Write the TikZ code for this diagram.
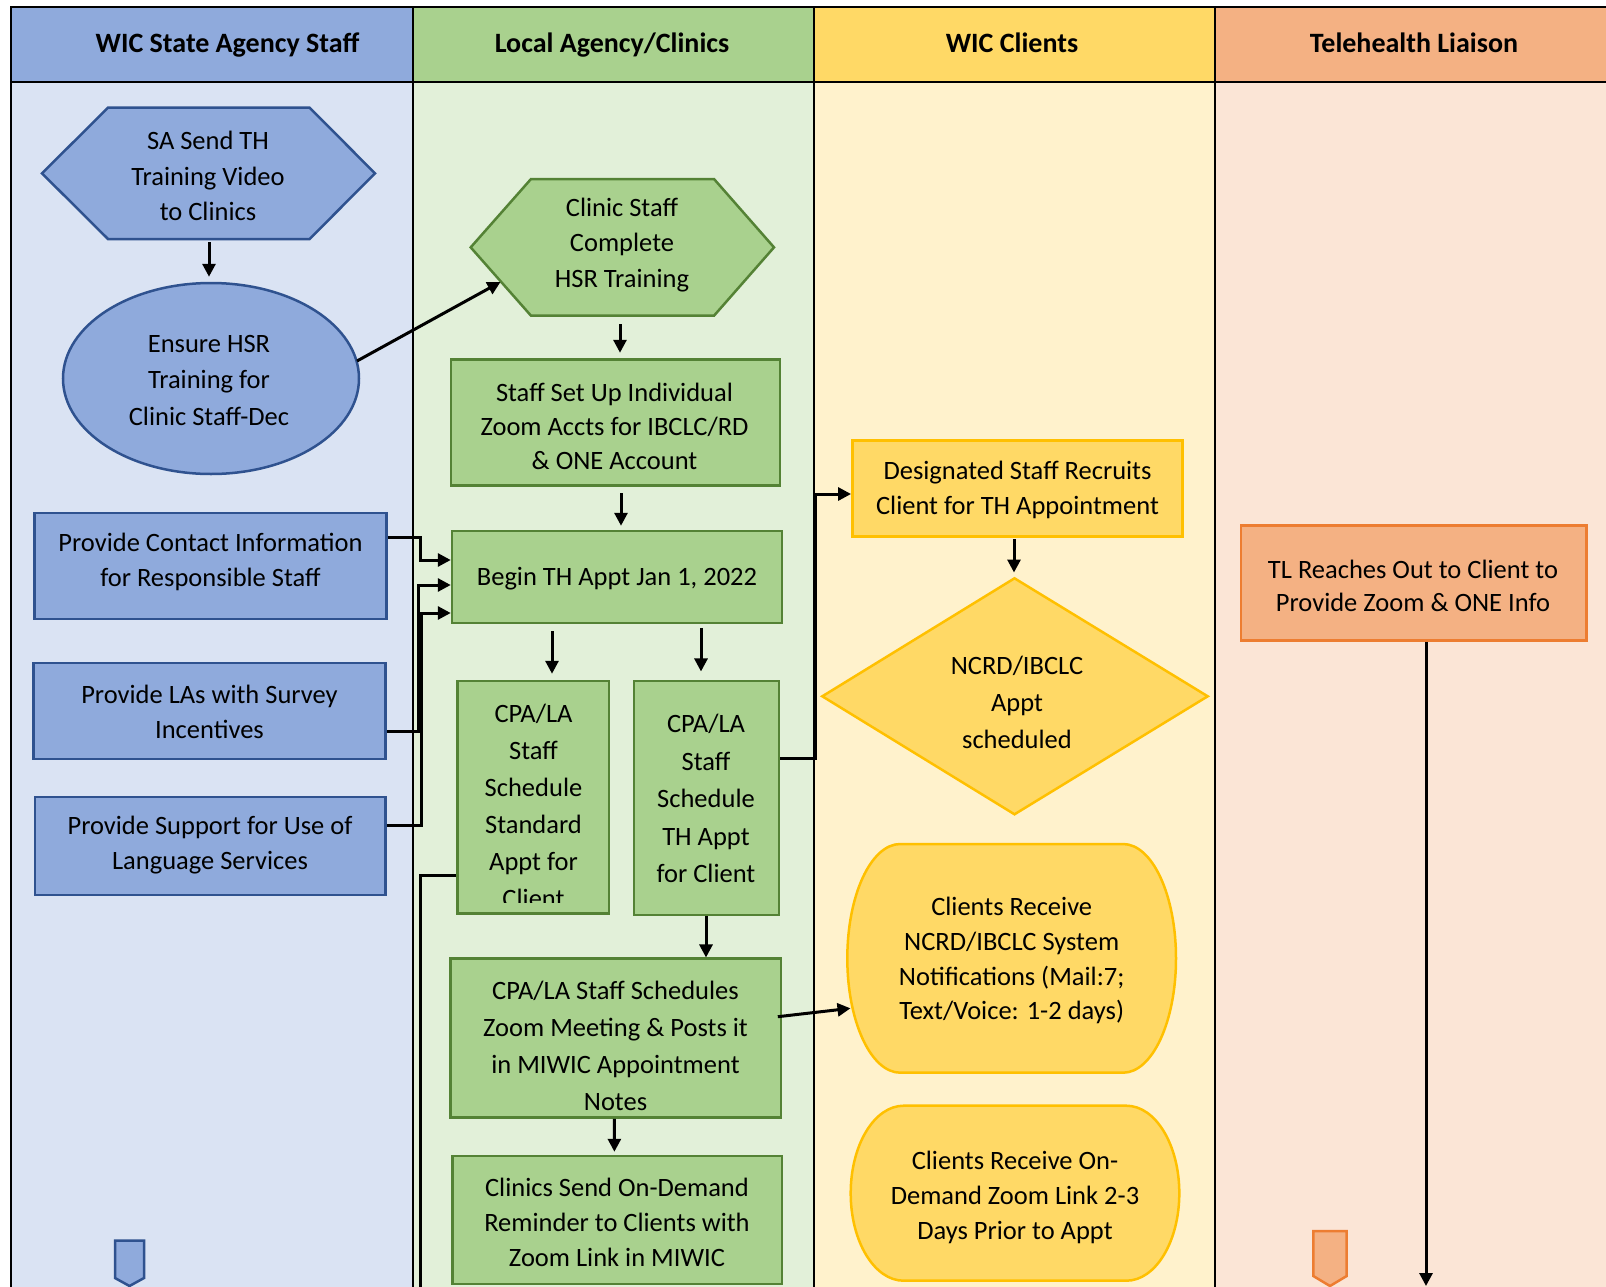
\documentclass[tikz,border=0pt]{standalone}
\usepackage{fontspec}
\setmainfont{Carlito}
\usetikzlibrary{arrows.meta,shapes.geometric}
\definecolor{hblue}{HTML}{8FAADC}
\definecolor{bblue}{HTML}{DAE3F3}
\definecolor{dblue}{HTML}{2F528F}
\definecolor{hgreen}{HTML}{A9D18E}
\definecolor{bgreen}{HTML}{E2F0D9}
\definecolor{dgreen}{HTML}{548235}
\definecolor{hyellow}{HTML}{FFD966}
\definecolor{byellow}{HTML}{FFF2CC}
\definecolor{dyellow}{HTML}{FFC000}
\definecolor{horange}{HTML}{F4B183}
\definecolor{borange}{HTML}{FBE5D6}
\definecolor{dorange}{HTML}{ED7D31}
\begin{document}
\begin{tikzpicture}[x=1pt,y=-1pt,
  lane/.style={line width=2.5pt,black},
  hdr/.style={font=\fontsize{28}{34}\selectfont\bfseries,inner sep=0pt,anchor=base},
  txt/.style={align=center,inner sep=0pt,yshift=-2pt},
  bs/.style={font=\fontsize{26.5}{#1}\selectfont},
  bx/.style={rectangle,draw,line width=2.5pt,inner sep=0pt},
  bluebox/.style={fill=hblue,draw=dblue,line width=2.5pt},
  greenbox/.style={fill=hgreen,draw=dgreen,line width=2.5pt},
  yellowbox/.style={fill=hyellow,draw=dyellow,line width=2.5pt},
  orangebox/.style={fill=horange,draw=dorange,line width=2.5pt},
  anch/.style={rectangle,inner sep=0pt,draw=none,fill=none},
  conn/.style={line width=3pt,black},
  arr/.style={conn,-{Triangle[length=13pt,width=13pt]}}]
\useasboundingbox (0,0) rectangle (1606,1287);
\clip (0,0) rectangle (1606,1287);
\fill[white] (0,0) rectangle (1606,1287);
% lanes
\fill[bblue] (11,82) rectangle (413,1290);
\fill[bgreen] (413,82) rectangle (814,1290);
\fill[byellow] (814,82) rectangle (1215,1290);
\fill[borange] (1215,82) rectangle (1610,1290);
\fill[hblue] (11,7) rectangle (413,82);
\fill[hgreen] (413,7) rectangle (814,82);
\fill[hyellow] (814,7) rectangle (1215,82);
\fill[horange] (1215,7) rectangle (1610,82);
\draw[lane] (11,1290) -- (11,7) -- (1610,7);
\draw[lane] (11,82) -- (1610,82);
\foreach \x in {413,814,1215} \draw[lane] (\x,7) -- (\x,1290);
\node[hdr] (h1) at (227.5,53) {WIC State Agency Staff};
\node[hdr] (h2) at (612,53) {Local Agency/Clinics};
\node[hdr] (h3) at (1012,53) {WIC Clients};
\node[hdr] (h4) at (1414,53) {Telehealth Liaison};

% State agency lane
\draw[bluebox] (42,173.35) -- (108,107.7) -- (309.6,107.7) -- (375,173.35) -- (309.6,239) -- (108,239) -- cycle;
\node[anch,minimum width=333pt,minimum height=131.3pt] (sa) at (208.5,173.35) {};
\node[txt,bs=35.8] (sat) at (208,174) {SA Send TH\\Training Video\\to Clinics};

\node[ellipse,bluebox,minimum width=296pt,minimum height=191pt,inner sep=0pt] (ens) at (211,378.5) {};
\node[txt,bs=36.7] (enst) at (209,378.3) {Ensure HSR\\Training for\\Clinic Staff-Dec};

\node[bx,bluebox,minimum width=352pt,minimum height=106pt] (con) at (210.5,566) {};
\node[txt,bs=34.5] (cont) at (210.5,560) {Provide Contact Information\\for Responsible Staff};
\node[bx,bluebox,minimum width=352pt,minimum height=96pt] (las) at (209.5,711) {};
\node[txt,bs=34.5] (last) at (209.5,710) {Provide LAs with Survey\\Incentives};
\node[bx,bluebox,minimum width=350.5pt,minimum height=98pt] (sup) at (210.25,846) {};
\node[txt,bs=35] (supt) at (210,843.5) {Provide Support for Use of\\Language Services};

\draw[bluebox] (115,1240.7) -- (144,1240.7) -- (144,1278) -- (129.5,1286) -- (115,1278) -- cycle;

% Local agency lane
\draw[greenbox] (470.7,247.35) -- (531,179) -- (714,179) -- (774,247.35) -- (714,315.7) -- (531,315.7) -- cycle;
\node[anch,minimum width=303.3pt,minimum height=136.7pt] (csh) at (622.35,247.35) {};
\node[txt,bs=35.5] (csht) at (622,243) {Clinic Staff\\Complete\\HSR Training};

\node[bx,greenbox,minimum width=329pt,minimum height=126.4pt] (ssu) at (615.5,422.5) {};
\node[txt,bs=34] (ssut) at (614.5,424) {Staff Set Up Individual\\Zoom Accts for IBCLC/RD\\\& ONE Account};

\node[bx,greenbox,minimum width=330pt,minimum height=92pt] (beg) at (617,577) {};
\node[txt,bs=35] (begt) at (617,577) {Begin TH Appt Jan 1, 2022};

\node[bx,greenbox,minimum width=151.2pt,minimum height=232.3pt] (std) at (533.2,797.15) {};
\begin{scope}
\clip (459,683) rectangle (607.5,902);
\node[txt,bs=37.1] (stdt) at (533.5,803.9) {CPA/LA\\Staff\\Schedule\\Standard\\Appt for\\Client};
\end{scope}

\node[bx,greenbox,minimum width=144.8pt,minimum height=234pt] (th) at (706.4,798) {};
\node[txt,bs=37.5] (tht) at (706,796.7) {CPA/LA\\Staff\\Schedule\\TH Appt\\for Client};

\node[bx,greenbox,minimum width=330.1pt,minimum height=159pt] (sch) at (615.75,1038.2) {};
\node[txt,bs=37] (scht) at (615.5,1043.5) {CPA/LA Staff Schedules\\Zoom Meeting \& Posts it\\in MIWIC Appointment\\Notes};

\node[bx,greenbox,minimum width=329.5pt,minimum height=128pt] (cls) at (617.05,1220) {};
\node[txt,bs=35] (clst) at (617,1220) {Clinics Send On-Demand\\Reminder to Clients with\\Zoom Link in MIWIC};

% WIC clients lane
\node[bx,yellowbox,minimum width=330.4pt,minimum height=96pt] (des) at (1017.5,488.7) {};
\node[txt,bs=35] (dest) at (1017.5,487.5) {Designated Staff Recruits\\Client for TH Appointment};

\draw[yellowbox] (1014.5,578.3) -- (1207.7,696.3) -- (1014.5,814.3) -- (822.3,696.3) -- cycle;
\node[anch,minimum width=385.4pt,minimum height=236pt] (dia) at (1015,696.3) {};
\node[txt,bs=36.7] (diat) at (1017,700.5) {NCRD/IBCLC\\Appt\\scheduled};

\draw[yellowbox] (900.3,844) -- (1123,844) .. controls (1152.3,844) and (1176,895.15) .. (1176,958.35)
  .. controls (1176,1021.55) and (1152.3,1072.7) .. (1123,1072.7) -- (900.3,1072.7)
  .. controls (871,1072.7) and (847.3,1021.55) .. (847.3,958.35)
  .. controls (847.3,895.15) and (871,844) .. (900.3,844) -- cycle;
\node[anch,minimum width=328.7pt,minimum height=228.7pt] (crn) at (1011.65,958.35) {};
\node[txt,bs=34.7] (crnt) at (1011.7,958.7) {Clients Receive\\NCRD/IBCLC System\\Notifications (Mail:7;\\Text/Voice: 1-2 days)};

\draw[yellowbox] (903.7,1105.7) -- (1126.3,1105.7) .. controls (1155.6,1105.7) and (1179.3,1144.9) .. (1179.3,1193.2)
  .. controls (1179.3,1241.5) and (1155.6,1280.7) .. (1126.3,1280.7) -- (903.7,1280.7)
  .. controls (874.4,1280.7) and (850.7,1241.5) .. (850.7,1193.2)
  .. controls (850.7,1144.9) and (874.4,1105.7) .. (903.7,1105.7) -- cycle;
\node[anch,minimum width=328.6pt,minimum height=175pt] (cod) at (1015,1193.2) {};
\node[txt,bs=35] (codt) at (1015,1195) {Clients Receive On-\\Demand Zoom Link 2-3\\Days Prior to Appt};

% Telehealth liaison lane
\node[bx,orangebox,minimum width=345.7pt,minimum height=115pt] (tl) at (1413.85,583.2) {};
\node[txt,bs=32.5] (tlt) at (1413,584) {TL Reaches Out to Client to\\Provide Zoom \& ONE Info};
\draw[orangebox] (1313.3,1231) -- (1346.7,1231) -- (1346.7,1276) -- (1330,1286) -- (1313.3,1276) -- cycle;
\coordinate (tlend) at (1426,1286);

% connectors
\draw[arr] ([xshift=0.5pt,yshift=-3pt]sa.south) -- ([xshift=-2pt,yshift=5pt]ens.north);
\draw[arr] ([shift={(146pt,17.5pt)}]ens.center) -- ([shift={(-121.85pt,-34.65pt)}]csh.center);
\draw[arr] ([xshift=-2.35pt,yshift=-8.3pt]csh.south) -- ([xshift=4.5pt,yshift=5.3pt]ssu.north);
\draw[arr] ([xshift=5.5pt,yshift=-6.3pt]ssu.south) -- ([xshift=4pt,yshift=4pt]beg.north);
\draw[arr] ([yshift=28.3pt]con.east) -| (420,560) -- ([yshift=17pt]beg.west);
\draw[arr] ([yshift=-20.7pt]las.east) -| (418,585) -- ([yshift=-8pt]beg.west);
\draw[arr] ([yshift=20.3pt]sup.east) -| (421,613) -- ([yshift=-36pt]beg.west);
\draw[arr] ([xshift=-65pt,yshift=-7pt]beg.south) -- ([xshift=18.8pt,yshift=6pt]std.north);
\draw[arr] ([xshift=84pt,yshift=-3.7pt]beg.south) -- ([xshift=-5.4pt,yshift=8.3pt]th.north);
\draw[conn] ([yshift=-78.55pt]std.west) -| (420,1295);
\draw[arr] ([yshift=39.7pt]th.east) -| (815,494) -- ([yshift=-5.3pt]des.west);
\draw[arr] ([xshift=-0.4pt]th.south) -- ([xshift=90.25pt]sch.north);
\draw[arr] ([xshift=-1.35pt]sch.south) -- ([xshift=-2.65pt,yshift=3pt]cls.north);
\draw[arr] ([xshift=-4.2pt,yshift=21.5pt]sch.east) -- ([xshift=3.4pt,yshift=-49.95pt]crn.west);
\draw[arr] ([xshift=-3.5pt,yshift=-1.3pt]des.south) -- ([xshift=-1pt,yshift=5.6pt]dia.north);
\draw[arr] ([xshift=12.15pt]tl.south) -- (tlend);
\end{tikzpicture}
\end{document}
